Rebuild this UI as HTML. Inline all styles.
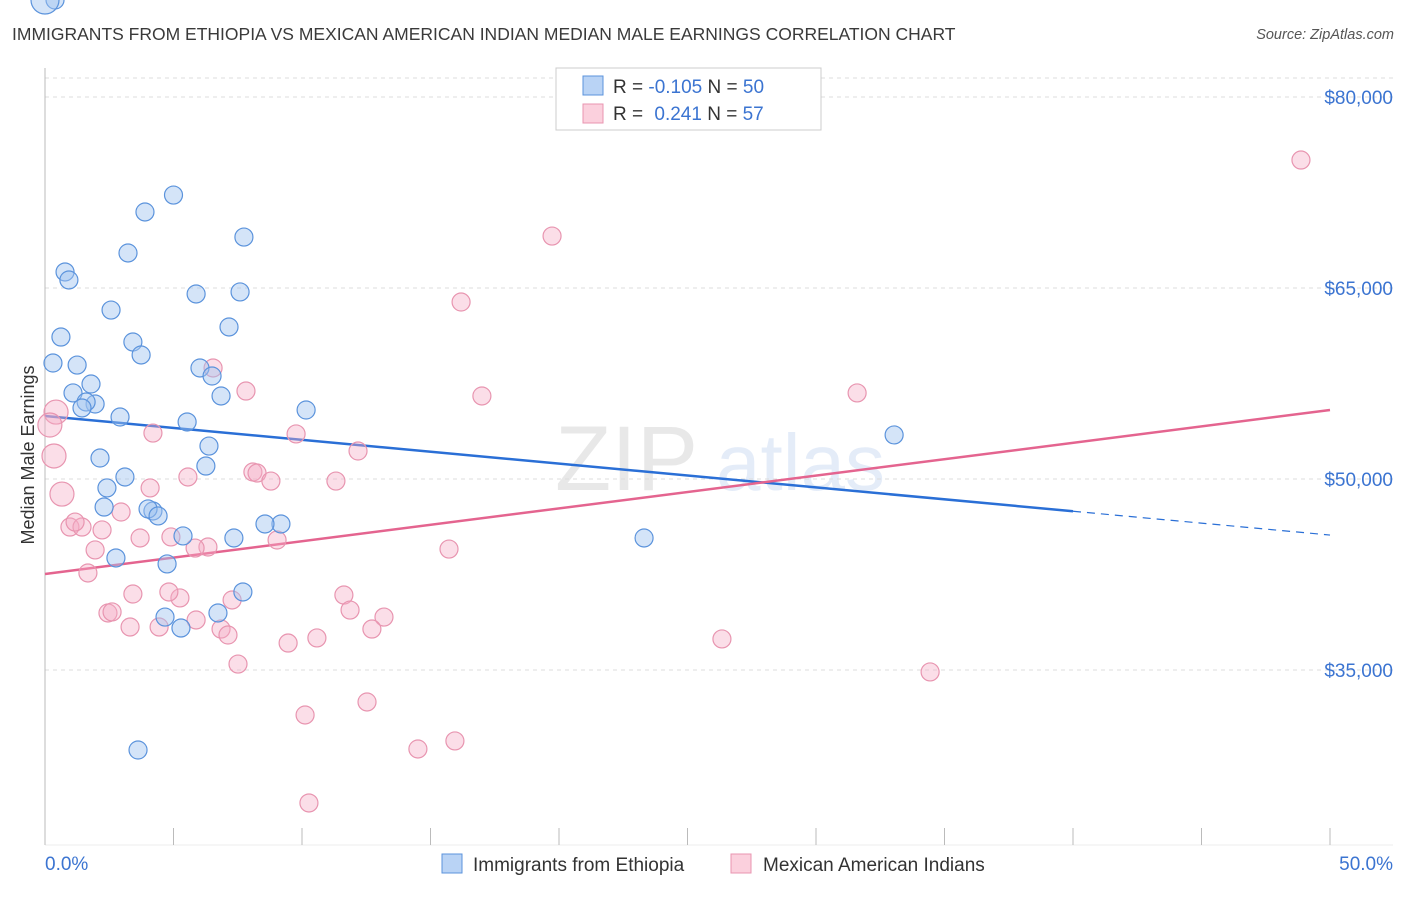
<!DOCTYPE html>
<html><head><meta charset="utf-8"><style>
body{margin:0;background:#fff;font-family:"Liberation Sans",sans-serif;}
svg text{font-family:"Liberation Sans",sans-serif;}
</style></head><body>
<svg id="chart" width="1406" height="892" xmlns="http://www.w3.org/2000/svg">
<text x="12" y="40" font-size="17.5" fill="#3a3a3a">IMMIGRANTS FROM ETHIOPIA VS MEXICAN AMERICAN INDIAN MEDIAN MALE EARNINGS CORRELATION CHART</text>
<text x="1394" y="39" font-size="14.5" fill="#555" font-style="italic" text-anchor="end">Source: ZipAtlas.com</text>
<g opacity="0.13">
<text x="555" y="490" font-size="92" font-family="Liberation Serif" fill="#555">ZIP</text>
<text x="716" y="490" font-size="80" fill="#3b74d1">atlas</text>
</g>
<g id="grid"></g>
<g id="axes"></g>
<g id="trends"></g>
<g id="points"></g>
<text transform="translate(34,455) rotate(-90)" font-size="18" fill="#333" text-anchor="middle">Median Male Earnings</text>
<g>
<rect x="556" y="68" width="265" height="62" fill="#fff" stroke="#ccc"/>
<rect x="583" y="76" width="20" height="19" fill="#b9d3f5" stroke="#5b93dc"/>
<rect x="583" y="104" width="20" height="19" fill="#fbd0dd" stroke="#e895b0"/>
<text x="613" y="93" font-size="19" fill="#333">R = <tspan fill="#3b74d1">-0.105</tspan>   N = <tspan fill="#3b74d1">50</tspan></text>
<text x="613" y="120" font-size="19" fill="#333">R =  <tspan fill="#3b74d1" dx="6">0.241</tspan>   N = <tspan fill="#3b74d1">57</tspan></text>
</g>
<g>
<rect x="442" y="854" width="20" height="19" fill="#b9d3f5" stroke="#5b93dc"/>
<text x="473" y="871" font-size="19" fill="#333">Immigrants from Ethiopia</text>
<rect x="731" y="854" width="20" height="19" fill="#fbd0dd" stroke="#e895b0"/>
<text x="763" y="871" font-size="19" fill="#333">Mexican American Indians</text>
</g>
</svg>
<script>
const xTicks=[0,5,10,15,20,25,30,35,40,45,50];
const yTicks=[35000,50000,65000,80000];
const yTickLabels=["$35,000","$50,000","$65,000","$80,000"];
const xEndLabels=["0.0%","50.0%"];
const blueX=[5.0,3.89,7.74,3.23,0.78,0.93,7.59,2.57,7.16,0.62,3.42,3.74,0.31,1.25,6.03,6.5,1.79,1.09,6.85,1.95,1.6,1.44,2.92,5.53,6.38,2.14,6.26,3.11,2.41,2.30,4.2,4.01,4.4,9.18,8.56,5.37,7.35,2.76,23.31,4.75,7.7,6.73,4.67,5.29,3.62,5.88,10.16,33.04,0.39,0];
const blueY=[72300,70970,69000,67750,66260,65630,64690,63270,61940,61150,60760,59740,59110,58950,58720,58090,57460,56760,56520,55890,56050,55580,54870,54480,52590,51650,51020,50160,49300,47800,47490,47650,47100,46470,46470,45530,45370,43800,43330,41130,39480,39160,38300,36570,28720,64530,55420,53460].slice(0);
blueY.splice(38,0,45370);blueY.splice(44,1);
const pinkX=[48.87,19.73,16.19,17.0,31.6,7.82,6.54,4.2,9.77,0.43,0.19,0.35,12.18,0.66,8.09,8.25,8.79,5.56,11.32,4.09,2.96,0.97,1.44,2.22,1.17,3.70,4.90,6.34,5.84,15.72,9.03,1.95,1.67,3.42,5.25,4.82,7.28,11.63,11.87,2.45,2.61,5.88,13.19,3.31,4.44,6.85,7.12,12.72,9.46,10.58,26.34,7.51,34.44,12.53,10.12,14.51,15.95,10.27];
const pinkY=[75050,69080,63900,56520,56760,56910,58720,53610,53540,55260,54240,51810,52200,48820,50550,50470,49840,50160,49840,49300,47410,46230,46230,46000,46620,45370,45450,44660,44580,44500,45210,44430,42620,40970,40660,41130,40500,40890,39710,39480,39560,38930,39160,38380,38380,38220,37750,38220,37120,37520,37440,35470,34850,32490,31470,28800,29430,24560];
const blueTrend=[54950,45600], pinkTrend=[42540,55420], blueSolidEnd=40;
const NS="http://www.w3.org/2000/svg";
const sx=p=>45+p*25.7, sy=v=>97+(80000-v)/78.53;
function mk(tag,attrs,parent){const e=document.createElementNS(NS,tag);for(const k in attrs)e.setAttribute(k,attrs[k]);parent.appendChild(e);return e;}
const grid=document.getElementById('grid'),axes=document.getElementById('axes'),tr=document.getElementById('trends'),pts=document.getElementById('points');
let g=mk('line',{x1:45,x2:1393,y1:78,y2:78,stroke:'#ddd','stroke-dasharray':'4,4'},grid);

yTicks.forEach((v,i)=>{
 const l=mk('line',{x1:45,x2:1393,y1:sy(v),y2:sy(v),stroke:'#ddd','stroke-dasharray':'4,4'},grid);
 
 const t=mk('text',{x:1393,y:sy(v)+7,'font-size':19,fill:'#3b74d1','text-anchor':'end'},axes);
 t.textContent=yTickLabels[i];
 
});
let a=mk('line',{x1:45,x2:45,y1:68,y2:845,stroke:'#bbb'},axes);

a=mk('line',{x1:45,x2:1393,y1:845,y2:845,stroke:'#eee'},axes);

xTicks.forEach(p=>{const t=mk('line',{x1:sx(p),x2:sx(p),y1:828,y2:845,stroke:'#bbb'},axes);
 });
let xl=mk('text',{x:45,y:870,'font-size':19,fill:'#3b74d1'},axes);xl.textContent=xEndLabels[0];

xl=mk('text',{x:1393,y:870,'font-size':19,fill:'#3b74d1','text-anchor':'end'},axes);xl.textContent=xEndLabels[1];

pinkX.forEach((x,i)=>{const c=mk('circle',{cx:sx(x),cy:sy(pinkY[i]),r:(x<0.8?12:9),fill:'rgba(246,172,198,0.4)',stroke:'#e895b0','stroke-width':1.2},pts);
 });
blueX.forEach((x,i)=>{const c=mk('circle',{cx:sx(x),cy:sy(blueY[i]),r:(x<0.2?14:9),fill:'rgba(160,196,240,0.45)',stroke:'#5b93dc','stroke-width':1.2},pts);
 });
const bAt=p=>blueTrend[0]+(blueTrend[1]-blueTrend[0])*p/50;
let t1=mk('line',{x1:sx(0),y1:sy(bAt(0)),x2:sx(blueSolidEnd),y2:sy(bAt(blueSolidEnd)),stroke:'#2a6fd6','stroke-width':2.5},tr);

t1=mk('line',{x1:sx(blueSolidEnd),y1:sy(bAt(blueSolidEnd)),x2:sx(50),y2:sy(bAt(50)),stroke:'#2a6fd6','stroke-width':1.2,'stroke-dasharray':'8,6'},tr);

t1=mk('line',{x1:sx(0),y1:sy(pinkTrend[0]),x2:sx(50),y2:sy(pinkTrend[1]),stroke:'#e4648f','stroke-width':2.5},tr);

</script>
</body></html>
